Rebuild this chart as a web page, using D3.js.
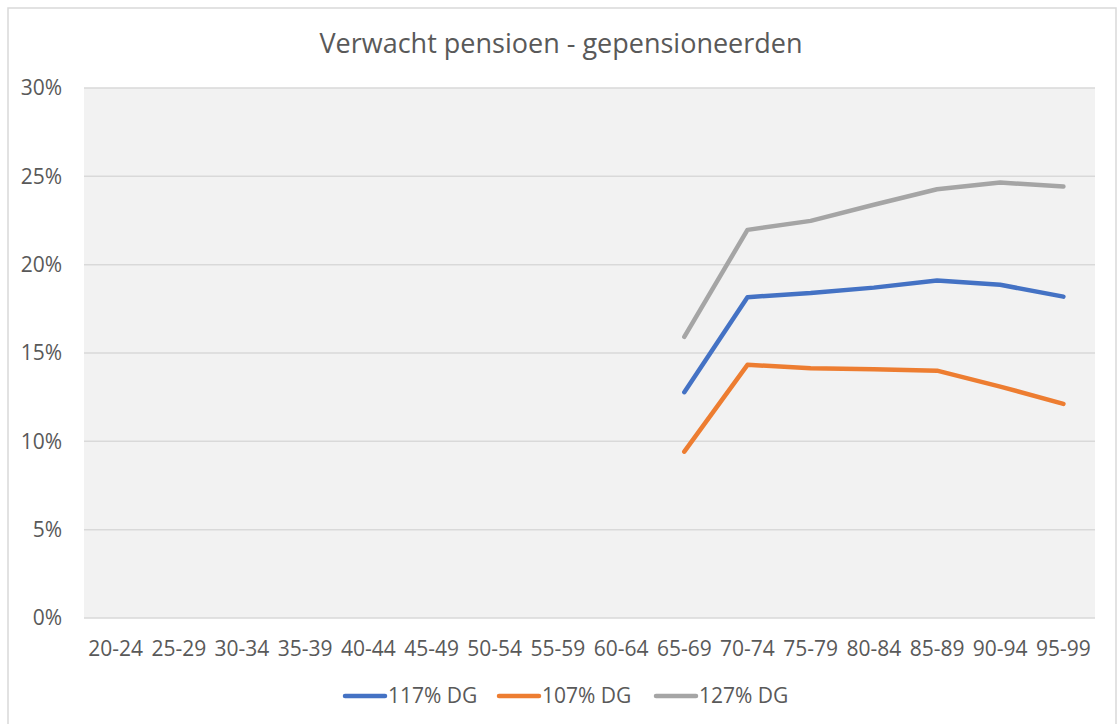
<!DOCTYPE html>
<html>
<head>
<meta charset="utf-8">
<script src="https://cdn.jsdelivr.net/npm/d3@7"></script>
<style>
  body { margin: 0; background: #fff; }
  text { font-family: "Open Sans", sans-serif; fill: #595959; }
</style>
</head>
<body>
<div id="chart"></div>
<script>
// age groups on the x axis
const categories = ["20-24", "25-29", "30-34", "35-39", "40-44", "45-49", "50-54", "55-59",
  "60-64", "65-69", "70-74", "75-79", "80-84", "85-89", "90-94", "95-99"];

// values in %, null where there is no point
const dg117 = [null, null, null, null, null, null, null, null, null, 12.78, 18.16, 18.39, 18.7, 19.1, 18.86, 18.19];
const dg107 = [null, null, null, null, null, null, null, null, null, 9.42, 14.33, 14.14, 14.08, 14.0, 13.1, 12.12];
const dg127 = [null, null, null, null, null, null, null, null, null, 15.91, 21.97, 22.48, 23.39, 24.27, 24.65, 24.42];

const seriesNames = ["117% DG", "107% DG", "127% DG"];
const yTicks = [0, 5, 10, 15, 20, 25, 30];

const series = [
  { name: seriesNames[0], values: dg117, color: "#4472c4" },
  { name: seriesNames[1], values: dg107, color: "#ed7d31" },
  { name: seriesNames[2], values: dg127, color: "#a5a5a5" }
];

const width = 1118, height = 724;
const plot = { left: 84, right: 1095, top: 88, bottom: 618 };

const svg = d3.select("#chart").append("svg")
  .attr("width", width)
  .attr("height", height);

// outer frame
svg.append("rect")
  .attr("x", 8).attr("y", 8)
  .attr("width", 1108).attr("height", 730)
  .attr("fill", "#fff")
  .attr("stroke", "#d9d9d9")
  .attr("stroke-width", 1.5);

svg.append("text")
  .attr("x", 561).attr("y", 53)
  .attr("text-anchor", "middle")
  .style("font-size", "27px")
  .text("Verwacht pensioen - gepensioneerden");

const x = d3.scaleBand().domain(categories).range([plot.left, plot.right]);
const y = d3.scaleLinear().domain([0, 30]).range([plot.bottom, plot.top]);

// plot background
svg.append("rect")
  .attr("x", plot.left).attr("y", plot.top)
  .attr("width", plot.right - plot.left)
  .attr("height", plot.bottom - plot.top)
  .attr("fill", "#f2f2f2");

// gridlines
svg.append("g")
  .selectAll("line")
  .data(yTicks)
  .join("line")
  .attr("x1", plot.left).attr("x2", plot.right)
  .attr("y1", d => y(d)).attr("y2", d => y(d))
  .attr("stroke", "#d9d9d9")
  .attr("stroke-width", 1.5);

// y axis labels
const yAxis = d3.axisLeft(y)
  .tickValues(yTicks)
  .tickFormat(d => d + "%")
  .tickSize(0)
  .tickPadding(22);
svg.append("g")
  .attr("transform", `translate(${plot.left},0)`)
  .call(yAxis)
  .call(g => g.select(".domain").remove())
  .call(g => g.selectAll("text").style("font-size", "21px").attr("fill", "#595959").style("font-family", "'Open Sans', sans-serif"));

// x axis labels
const xAxis = d3.axisBottom(x).tickSize(0).tickPadding(23);
svg.append("g")
  .attr("transform", `translate(0,${plot.bottom})`)
  .call(xAxis)
  .call(g => g.select(".domain").remove())
  .call(g => g.selectAll("text").style("font-size", "21px").attr("fill", "#595959").style("font-family", "'Open Sans', sans-serif"));

// lines
const line = d3.line()
  .defined(d => d.v != null)
  .x(d => x(d.c) + x.bandwidth() / 2)
  .y(d => y(d.v));

svg.append("g")
  .selectAll("path")
  .data(series)
  .join("path")
  .attr("d", s => line(categories.map((c, i) => ({ c: c, v: s.values[i] }))))
  .attr("fill", "none")
  .attr("stroke", s => s.color)
  .attr("stroke-width", 4.5)
  .attr("stroke-linecap", "round")
  .attr("stroke-linejoin", "round");

// legend
const legendX = [345, 499, 656];
const legend = svg.append("g")
  .selectAll("g")
  .data(series)
  .join("g")
  .attr("transform", (d, i) => `translate(${legendX[i]},696)`);
legend.append("line")
  .attr("x1", 0).attr("x2", 40)
  .attr("stroke", d => d.color)
  .attr("stroke-width", 4.5)
  .attr("stroke-linecap", "round");
legend.append("text")
  .attr("x", 43).attr("dy", "0.35em")
  .style("font-size", "21px")
  .text(d => d.name);
</script>
</body>
</html>
